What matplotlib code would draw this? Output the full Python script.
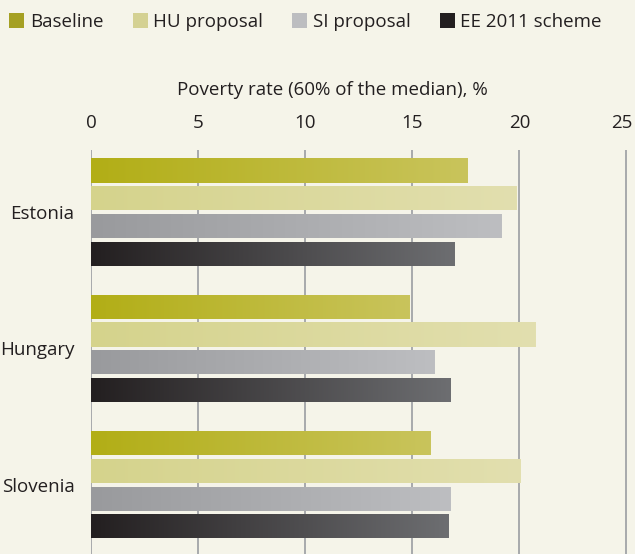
import matplotlib.pyplot as plt
import matplotlib.transforms as mtransforms
import numpy as np
from matplotlib.colors import LinearSegmentedColormap
from matplotlib.patches import Patch

countries = ['Estonia', 'Hungary', 'Slovenia']
series = ['Baseline', 'HU proposal', 'SI proposal', 'EE 2011 scheme']
baseline = [17.6, 14.85, 15.85]
hu_proposal = [19.85, 20.75, 20.05]
si_proposal = [19.15, 16.05, 16.8]
ee_2011 = [16.95, 16.8, 16.7]
xticks = [0, 5, 10, 15, 20, 25]

values = [baseline, hu_proposal, si_proposal, ee_2011]
grad_colors = [('#b2ae16', '#c9c45c'),
               ('#d5d38c', '#e2dfaf'),
               ('#999a9d', '#bdbec1'),
               ('#231f20', '#6d6e71')]
legend_colors = ['#a5a023', '#d4d193', '#bcbdc0', '#231f20']

bg = '#f5f4e9'
text_col = '#231f20'
fs = 13.5
plt.rcParams['font.family'] = ['Open Sans', 'DejaVu Sans']

fig = plt.figure(figsize=(6.35, 5.54), dpi=100, facecolor=bg)
ax = fig.add_axes([91 / 635, 0, 1 - 91 / 635, 1 - 150 / 554])
ax.set_facecolor(bg)

group_gap = 4.92
bar_h = 0.87
grad = np.linspace(0, 1, 256).reshape(1, -1)

for j, (vals, (c0, c1)) in enumerate(zip(values, grad_colors)):
    cmap = LinearSegmentedColormap.from_list('g%d' % j, [c0, c1])
    ys = [i * group_gap + j for i in range(len(countries))]
    bars = ax.barh(ys, vals, height=bar_h, color=c1, zorder=2)
    for bar, y, v in zip(bars, ys, vals):
        im = ax.imshow(grad, extent=[0, v, y + bar_h / 2, y - bar_h / 2],
                       aspect='auto', cmap=cmap, zorder=3)
        im.set_clip_path(bar)

ax.set_xlim(0, 25.4)
ax.set_ylim(13.84, -0.74)
ax.set_xticks(xticks)
ax.xaxis.tick_top()
ax.xaxis.set_label_position('top')
ax.tick_params(axis='x', length=0, pad=13, labelsize=fs, colors=text_col)
# keep the last tick label inside the figure
last = ax.get_xticklabels()[-1]
last.set_transform(last.get_transform() +
                   mtransforms.ScaledTranslation(-3 / 72, 0, fig.dpi_scale_trans))
ax.set_xlabel('Poverty rate (60% of the median), %', fontsize=fs,
              color=text_col)
ax.xaxis.set_label_coords(0.443, 1.0 + 60 / 404)
ax.xaxis.label.set_verticalalignment('center')

centers = [i * group_gap + 1.5 for i in range(len(countries))]
ax.set_yticks(centers)
ax.set_yticklabels(countries)
ax.tick_params(axis='y', length=0, pad=12, labelsize=fs, colors=text_col)

ax.grid(axis='x', color='#a7a9ac', linewidth=1.4, zorder=0)
ax.set_axisbelow(True)
for s in ax.spines.values():
    s.set_visible(False)

handles = [Patch(facecolor=c, edgecolor='none') for c in legend_colors]
fig.legend(handles, series, loc='center left', bbox_to_anchor=(0.0, 1 - 22 / 554),
           ncol=4, frameon=False, fontsize=fs, handlelength=0.8,
           handleheight=0.8, handletextpad=0.3, columnspacing=1.55,
           labelcolor=text_col, borderaxespad=0.1)

plt.savefig('out.png', dpi=100, facecolor=bg)
